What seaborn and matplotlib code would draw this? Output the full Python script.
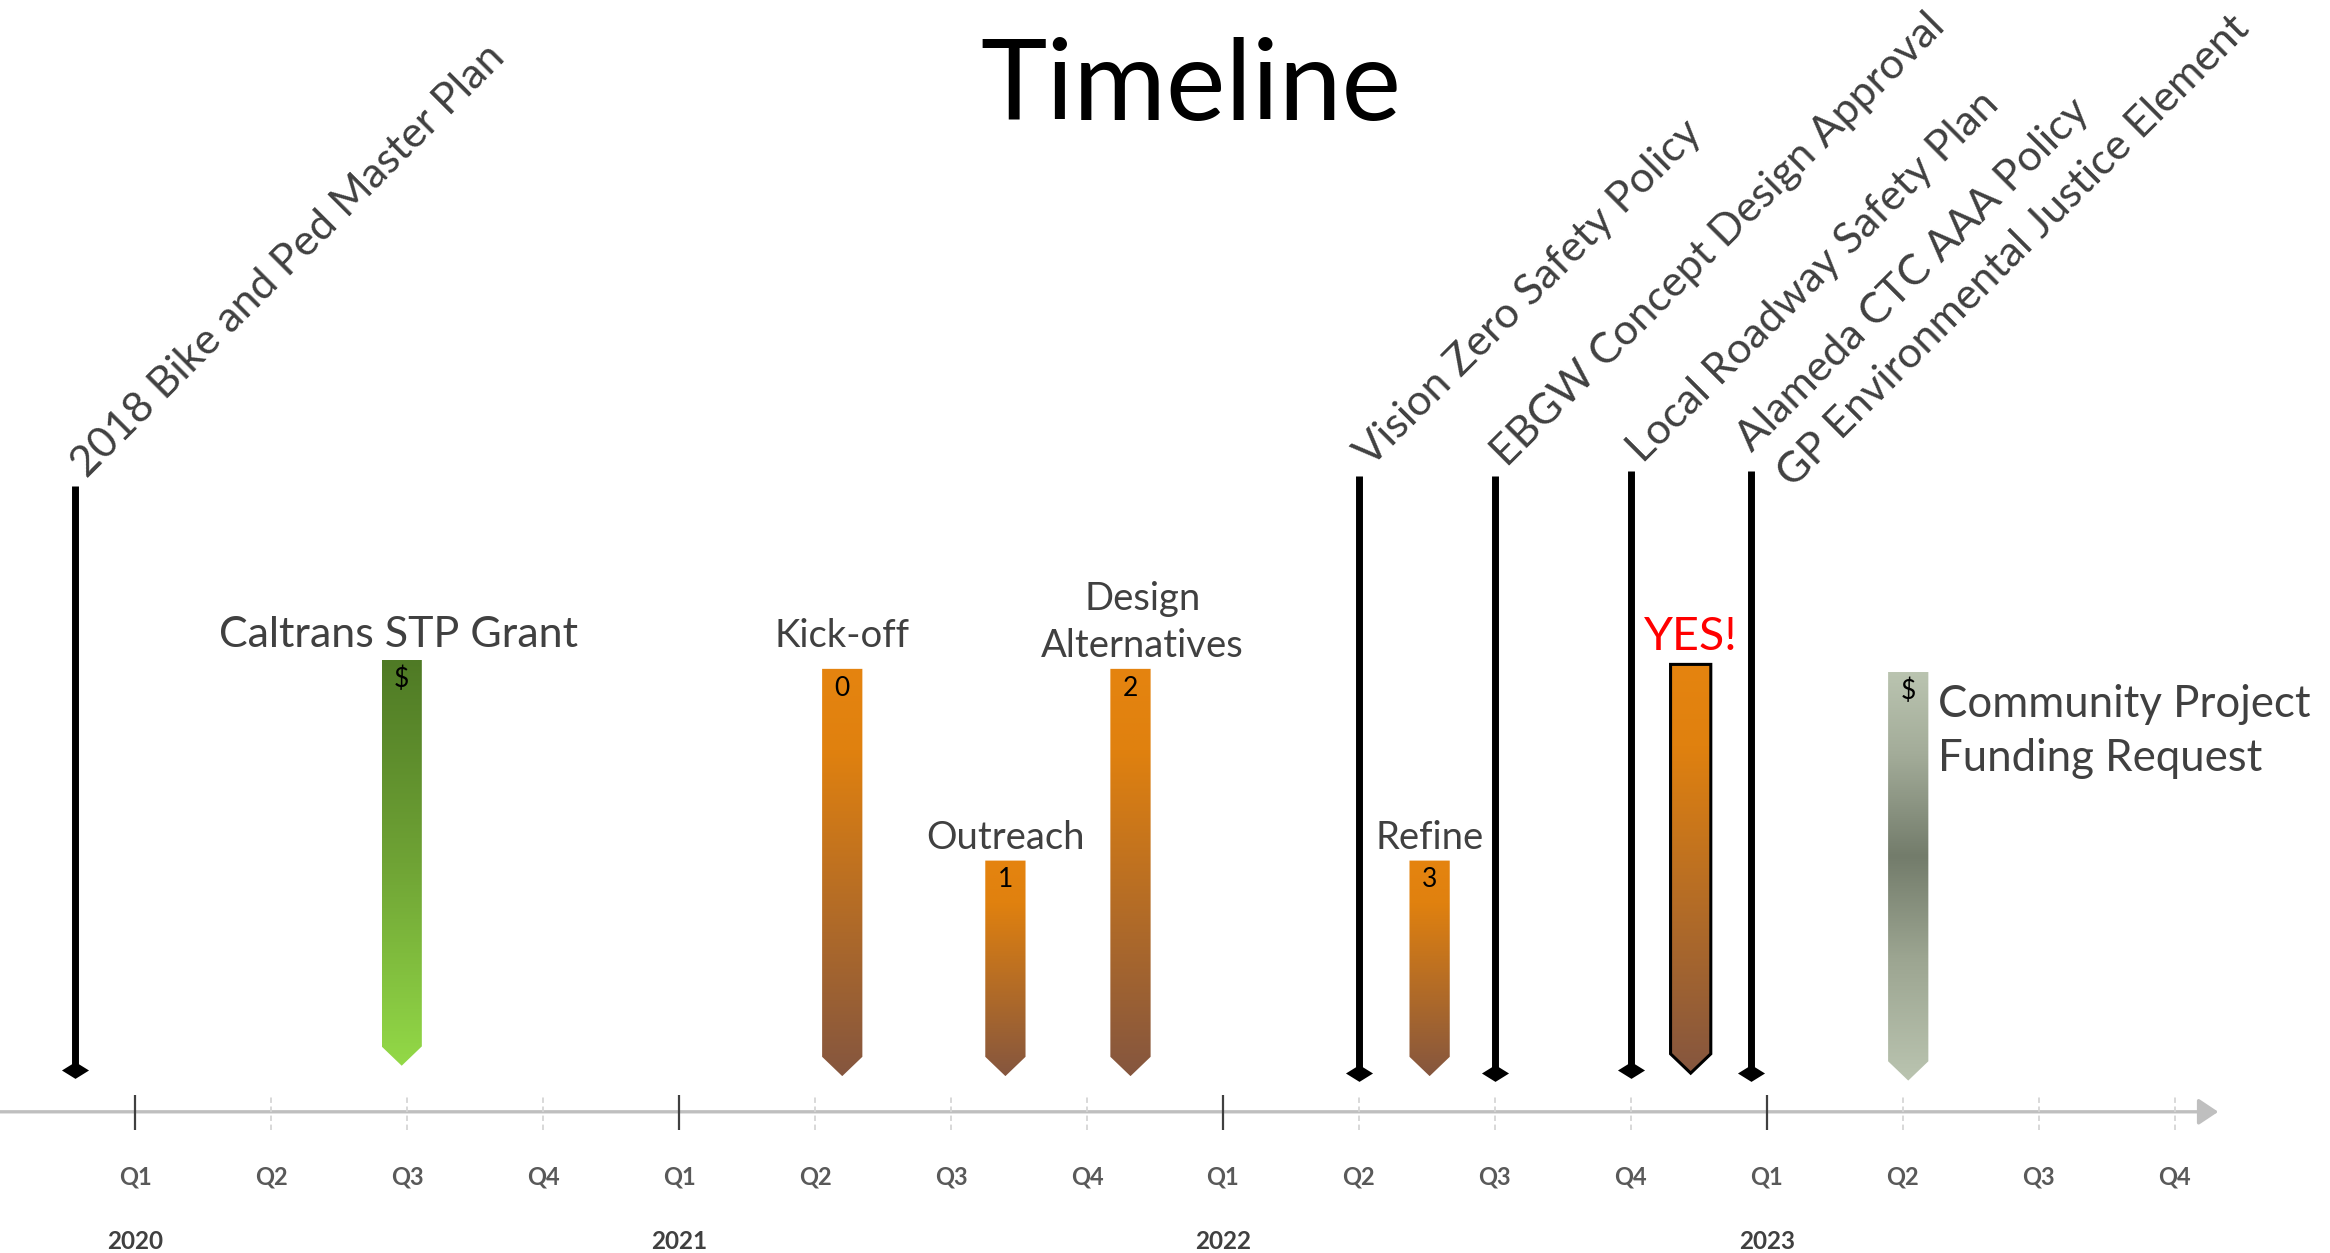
import numpy as np
import pandas as pd
import matplotlib
matplotlib.use("Agg")
import matplotlib.pyplot as plt
from matplotlib.colors import LinearSegmentedColormap
from matplotlib.patches import Polygon
from matplotlib.path import Path
import seaborn as sns

# ---------------- data ----------------
years = [2020, 2021, 2022, 2023]
quarter_names = ["Q1", "Q2", "Q3", "Q4"]

# milestone events (vertical black lines); several policies may share one line
event_labels = [
    ["2018 Bike and Ped Master Plan"],
    ["Vision Zero Safety Policy"],
    ["EBGW Concept Design Approval"],
    ["Local Roadway Safety Plan"],
    ["Alameda CTC AAA Policy", "GP Environmental Justice Element"],
]
event_dates = [2019.89, 2022.25, 2022.50, 2022.75, 2022.97]
event_tops = [421, 428, 428, 431, 431]
event_bottoms = [28, 26, 26, 28, 26]

# project phases (gradient pennants)
phase_labels = [
    "Caltrans STP Grant",
    "Kick-off",
    "Outreach",
    "Design\nAlternatives",
    "Refine",
    "YES!",
    "Community Project\nFunding Request",
]
phase_dates = [2020.49, 2021.30, 2021.60, 2021.83, 2022.38, 2022.86, 2023.26]
phase_tops = [304, 298, 169, 298, 169, 301, 296]
phase_bottoms = [31, 24, 24, 24, 24, 26, 21]
phase_marks = ["$", "0", "1", "2", "3", "", "$"]
phase_kinds = ["grant", "step", "step", "step", "step", "approval", "request"]

events = pd.DataFrame({"label": event_labels, "date": event_dates,
                       "top": event_tops, "bottom": event_bottoms})
phases = pd.DataFrame({"label": phase_labels, "date": phase_dates,
                       "top": phase_tops, "bottom": phase_bottoms,
                       "mark": phase_marks, "kind": phase_kinds})

# ---------------- style ----------------
sns.set_theme(style="white")
plt.rcParams["font.family"] = ["Lato", "DejaVu Sans"]

TEXT = "#404040"
orange = [(0, "#E5840F"), (0.2, "#E0810F"), (1, "#85563F")]
cmaps = {
    "grant": LinearSegmentedColormap.from_list("grant", ["#4F7A25", "#6FA335", "#93D947"]),
    "step": LinearSegmentedColormap.from_list("step", orange),
    "approval": LinearSegmentedColormap.from_list("approval", orange),
    "request": LinearSegmentedColormap.from_list(
        "request", [(0, "#BAC4B0"), (0.2, "#A3AC99"), (0.45, "#737C6B"), (0.7, "#9CA591"), (1, "#BAC4B0")]),
}

fig = plt.figure(figsize=(23.3, 12.53), dpi=100)
ax = fig.add_axes([0, 0, 1, 1])
XLIM = (2019.7514, 2024.0355)
YLIM = (-95, 748)

BAR_W = 0.074
TIP_H = 13

# ---------------- time axis ----------------
ax.annotate("", xy=(2023.83, 0), xytext=(XLIM[0], 0),
            arrowprops=dict(arrowstyle="-|>,head_length=0.6,head_width=0.4",
                            color="#BFBFBF", lw=2.4, mutation_scale=20,
                            shrinkA=0, shrinkB=0), zorder=1)
for yr in years:
    for qi, qn in enumerate(quarter_names):
        xq = yr + qi / 4
        if qi == 0:
            ax.plot([xq, xq], [-12, 11], color="#404040", lw=1.6, zorder=2,
                    solid_capstyle="butt")
        else:
            ax.plot([xq, xq], [-12, 11], color="#D5D5D5", lw=1.3, ls=(0, (3, 2)),
                    zorder=2)
        ax.text(xq, -44, qn, ha="center", va="center", fontsize=17,
                fontweight="bold", color="#595959")
    ax.text(yr, -87, str(yr), ha="center", va="center", fontsize=17.5,
            fontweight="bold", color=TEXT)

# ---------------- phases ----------------
grad = np.linspace(0, 1, 256).reshape(-1, 1)
for _, r in phases.iterrows():
    x, top, bot = r["date"], r["top"], r["bottom"]
    verts = [(x - BAR_W / 2, top), (x + BAR_W / 2, top), (x + BAR_W / 2, bot + TIP_H),
             (x, bot), (x - BAR_W / 2, bot + TIP_H)]
    edge = "black" if r["kind"] == "approval" else "none"
    poly = Polygon(verts, closed=True, facecolor="none", edgecolor=edge,
                   lw=2.2, zorder=4, joinstyle="miter")
    ax.add_patch(poly)
    im = ax.imshow(grad, extent=[x - BAR_W / 2, x + BAR_W / 2, bot, top],
                   aspect="auto", cmap=cmaps[r["kind"]], zorder=3,
                   interpolation="bilinear")
    im.set_clip_path(poly)
    if r["mark"]:
        ax.text(x, top - 13, r["mark"], ha="center", va="center",
                fontsize=19, color="black", zorder=5)

# phase captions
for _, r in phases.iterrows():
    x, top = r["date"], r["top"]
    if r["kind"] == "request":
        ax.text(x + 0.055, top - 40, r["label"], ha="left", va="center",
                fontsize=31.5, color=TEXT, linespacing=1.38)
    elif r["kind"] == "grant":
        ax.text(x - 0.005, top + 9, r["label"], ha="center", va="baseline",
                fontsize=31, color=TEXT)
    elif r["kind"] == "approval":
        ax.text(x, top + 10, r["label"], ha="center", va="baseline",
                fontsize=33.5, color="#FF0000")
    else:
        dx = 0.022 if "\n" in r["label"] else 0
        dy = 15 if r["label"] == "Kick-off" else 8
        ax.text(x + dx, top + dy, r["label"], ha="center", va="baseline",
                fontsize=27.5, color=TEXT, linespacing=1.38)

# ---------------- milestone events ----------------
ax.vlines(events["date"], events["bottom"], events["top"], color="black",
          lw=5, zorder=4)
diamond = Path([(-1, 0), (0, -0.62), (1, 0), (0, 0.62), (-1, 0)],
               [Path.MOVETO, Path.LINETO, Path.LINETO, Path.LINETO, Path.CLOSEPOLY])
sns.scatterplot(data=events, x="date", y="bottom", marker=diamond, s=380,
                color="black", edgecolor="black", linewidth=0, ax=ax,
                legend=False, zorder=5)

# rotated captions; stacked captions step down-right, perpendicular to the text
STACK_DX, STACK_DY = 0.0765, -24
for _, r in events.iterrows():
    lines = r["label"]
    if len(lines) > 1:
        x0, y0 = r["date"] + 0.002, r["top"] + 12
    else:
        x0, y0 = r["date"] + 0.022, r["top"] + 5
    for i, line in enumerate(lines):
        ax.text(x0 + i * STACK_DX, y0 + i * STACK_DY, line, rotation=45,
                rotation_mode="anchor", ha="left", va="baseline",
                fontsize=31, color=TEXT)

# ---------------- title ----------------
ax.text(2021.941, 689, "Timeline", ha="center", va="center", fontsize=81,
        color="black")

ax.set_xlim(*XLIM)
ax.set_ylim(*YLIM)
ax.axis("off")
fig.savefig("out.png", dpi=100, facecolor="white")
